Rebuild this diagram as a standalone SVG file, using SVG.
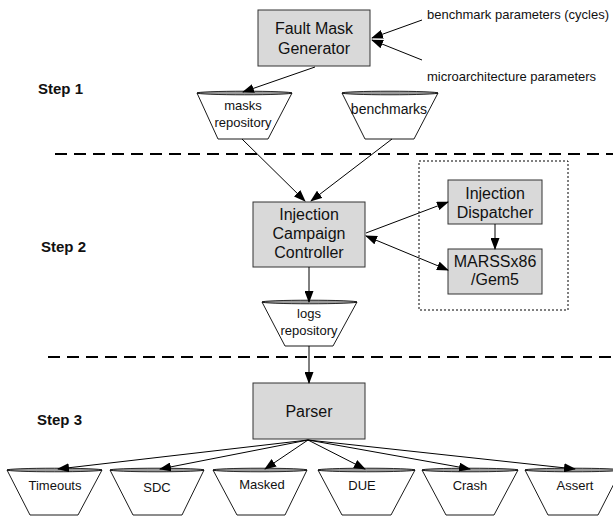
<svg xmlns="http://www.w3.org/2000/svg" width="613" height="516" viewBox="0 0 613 516">
<style>
.box{fill:#d9d9d9;stroke:#333;stroke-width:1}
.trap{fill:#fff;stroke:#000;stroke-width:0.9}
.rim{fill:#999;stroke:#000;stroke-width:0.8}
.t16{font-family:"Liberation Sans",Arial,sans-serif;font-size:16px;fill:#111;text-anchor:middle}
.t13{font-family:"Liberation Sans",Arial,sans-serif;font-size:13px;fill:#111;text-anchor:middle}
.side{font-family:"Liberation Sans",Arial,sans-serif;font-size:13px;fill:#111}
.step{font-family:"Liberation Sans",Arial,sans-serif;font-size:15px;font-weight:bold;fill:#111}
.ln{stroke:#000;stroke-width:1;fill:none}
.dash{stroke:#000;stroke-width:2;stroke-dasharray:12 7;fill:none}
.dot{fill:none;stroke:#000;stroke-width:1;stroke-dasharray:2 2}
</style>
<defs>
<marker id="ah" markerWidth="12" markerHeight="9" refX="11" refY="4.5" orient="auto" markerUnits="userSpaceOnUse">
<path d="M0,0 L12,4.5 L0,9 Z" fill="#000"/>
</marker>
<marker id="as" markerWidth="12" markerHeight="9" refX="1" refY="4.5" orient="auto" markerUnits="userSpaceOnUse">
<path d="M12,0 L0,4.5 L12,9 Z" fill="#000"/>
</marker>
</defs>
<rect width="613" height="516" fill="#fff"/>

<g id="separators">
<line class="dash" x1="55" y1="154" x2="613" y2="154"/>
<line class="dash" x1="48" y1="357" x2="613" y2="357"/>
</g>

<g id="steps">
<text class="step" x="38" y="94">Step 1</text>
<text class="step" x="41" y="252">Step 2</text>
<text class="step" x="37" y="425">Step 3</text>
</g>

<g id="inputs">
<text class="side" x="427" y="19">benchmark parameters (cycles)</text>
<text class="side" x="427" y="81">microarchitecture parameters</text>
</g>

<g id="simulator-group">
<rect class="dot" x="419" y="161" width="149" height="149"/>
</g>

<g id="fault-mask-generator">
<rect class="box" x="258" y="10" width="112" height="56"/>
<text class="t16" x="314" y="33.5">Fault Mask</text>
<text class="t16" x="314" y="53.5">Generator</text>
</g>

<g id="masks-repository">
<polygon class="trap" points="197,93 292,93 268,139 218,139"/>
<ellipse class="rim" cx="244.5" cy="93" rx="47.5" ry="1.8"/>
<text class="t13" x="243" y="109.5">masks</text>
<text class="t13" x="243" y="126.5">repository</text>
</g>

<g id="benchmarks">
<polygon class="trap" points="342,93 438,93 414,139 365,139"/>
<ellipse class="rim" cx="390" cy="93" rx="48" ry="1.8"/>
<text class="t13" x="389" y="114" style="font-size:14px">benchmarks</text>
</g>

<g id="injection-campaign-controller">
<rect class="box" x="253" y="202" width="112" height="65"/>
<text class="t16" x="309" y="219.5">Injection</text>
<text class="t16" x="309" y="238.5">Campaign</text>
<text class="t16" x="309" y="257.5">Controller</text>
</g>

<g id="injection-dispatcher">
<rect class="box" x="448" y="180" width="94" height="44"/>
<text class="t16" x="495" y="198.5">Injection</text>
<text class="t16" x="495" y="217.5">Dispatcher</text>
</g>

<g id="marssx86-gem5">
<rect class="box" x="448" y="249" width="94" height="45"/>
<text class="t16" x="495" y="266.5">MARSSx86</text>
<text class="t16" x="495" y="284.5">/Gem5</text>
</g>

<g id="logs-repository">
<polygon class="trap" points="262,302 357,302 333,346 285,346"/>
<ellipse class="rim" cx="309.5" cy="302" rx="47.5" ry="1.8"/>
<text class="t13" x="309" y="317.5">logs</text>
<text class="t13" x="309" y="334.5">repository</text>
</g>

<g id="parser">
<rect class="box" x="253" y="383" width="112" height="56"/>
<text class="t16" x="309" y="417">Parser</text>
</g>

<g id="timeouts">
<polygon class="trap" points="7,470 102,470 78,515 30,515"/>
<ellipse class="rim" cx="54.5" cy="470" rx="47.5" ry="1.8"/>
<text class="t13" x="55" y="489.5">Timeouts</text>
</g>
<g id="sdc">
<polygon class="trap" points="110,470 204,470 182,515 133,515"/>
<ellipse class="rim" cx="157" cy="470" rx="47" ry="1.8"/>
<text class="t13" x="157" y="491.5">SDC</text>
</g>
<g id="masked">
<polygon class="trap" points="213,470 307,470 285,515 237,515"/>
<ellipse class="rim" cx="260" cy="470" rx="47" ry="1.8"/>
<text class="t13" x="262" y="488.5">Masked</text>
</g>
<g id="due">
<polygon class="trap" points="318,470 415,470 391,515 342,515"/>
<ellipse class="rim" cx="366.5" cy="470" rx="48.5" ry="1.8"/>
<text class="t13" x="362" y="489.5">DUE</text>
</g>
<g id="crash">
<polygon class="trap" points="422,470 518,470 494,515 446,515"/>
<ellipse class="rim" cx="470" cy="470" rx="48" ry="1.8"/>
<text class="t13" x="470" y="489.5">Crash</text>
</g>
<g id="assert">
<polygon class="trap" points="525,470 621,470 598,515 548,515"/>
<ellipse class="rim" cx="573" cy="470" rx="48" ry="1.8"/>
<text class="t13" x="575" y="489.5">Assert</text>
</g>

<g id="connectors">
<line class="ln" x1="422" y1="20" x2="372" y2="38" marker-end="url(#ah)"/>
<line class="ln" x1="422" y1="60" x2="372" y2="40" marker-end="url(#ah)"/>
<line class="ln" x1="315" y1="67" x2="243" y2="92" marker-end="url(#ah)"/>
<line class="ln" x1="242" y1="139" x2="305" y2="201" marker-end="url(#ah)"/>
<line class="ln" x1="392" y1="139" x2="311" y2="201" marker-end="url(#ah)"/>
<line class="ln" x1="366" y1="233" x2="448" y2="202" marker-end="url(#ah)"/>
<line class="ln" x1="366" y1="236" x2="448" y2="270" marker-start="url(#as)" marker-end="url(#ah)"/>
<line class="ln" x1="495" y1="224" x2="495" y2="249" marker-end="url(#ah)"/>
<line class="ln" x1="309" y1="267" x2="309" y2="302" marker-end="url(#ah)"/>
<line class="ln" x1="309" y1="346" x2="309" y2="383" marker-end="url(#ah)"/>
<line class="ln" x1="308" y1="440" x2="58" y2="469" marker-end="url(#ah)"/>
<line class="ln" x1="308" y1="440" x2="160" y2="469" marker-end="url(#ah)"/>
<line class="ln" x1="308" y1="440" x2="265" y2="469" marker-end="url(#ah)"/>
<line class="ln" x1="308" y1="440" x2="365" y2="469" marker-end="url(#ah)"/>
<line class="ln" x1="308" y1="440" x2="470" y2="469" marker-end="url(#ah)"/>
<line class="ln" x1="308" y1="440" x2="575" y2="469" marker-end="url(#ah)"/>
</g>
</svg>
